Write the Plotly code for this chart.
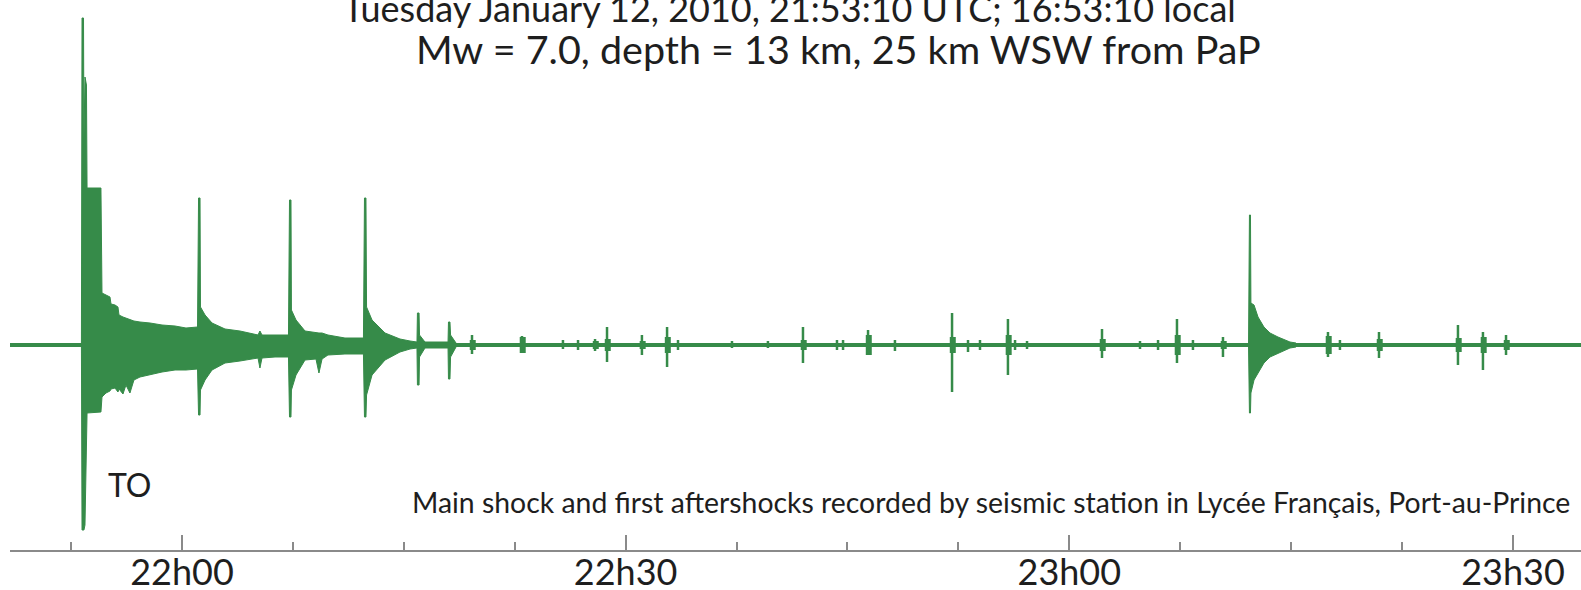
import plotly.graph_objects as go

# ---- data: minutes relative to 22:00 UTC, amplitude in arbitrary counts (up +, down -)
env_min = [-6.80, -6.76, -6.66, -6.63, -6.56, -6.46, -6.42, -5.48, -5.41, -5.14, -4.87, -4.80,
           -4.53, -4.33, -4.26, -3.99, -3.79, -3.52, -3.25, -2.84, -2.16, -1.35, -0.47, 0.27,
           1.05, 1.12, 1.22, 1.25, 1.56, 2.03, 2.91, 3.92, 5.14, 5.27, 5.41, 6.29,
           7.20, 7.27, 7.37, 7.40, 7.71, 8.32, 9.06, 9.26, 9.47, 9.87, 11.02,
           12.27, 12.34, 12.44, 12.48, 12.85, 13.73, 14.74, 15.42,
           15.89, 15.92, 16.03, 16.06, 16.43, 17.99, 18.02, 18.12, 18.16, 18.53]
env_up = [2, 327, 327, 205, 268, 260, 157, 157, 52, 50, 48, 41,
          40, 38, 30, 28, 27, 25, 24, 23, 22, 20, 19, 17,
          18, 147, 147, 38, 30, 22, 16, 14, 10, 14, 10, 10,
          10, 145, 145, 35, 25, 14, 12, 12, 12, 10, 7,
          7, 147, 147, 38, 25, 12, 6, 4,
          3, 32, 32, 10, 3, 3, 23, 23, 10, 2]
env_dn = [2, 185, 185, 185, 180, 100, 68, 67, 52, 48, 46, 44,
          43, 47, 44, 49, 40, 48, 35, 32, 30, 27, 25, 25,
          24, 70, 70, 45, 35, 25, 18, 16, 13, 23, 13, 12,
          12, 72, 72, 45, 30, 15, 14, 28, 14, 10, 9,
          9, 72, 72, 50, 30, 15, 7, 4,
          3, 40, 40, 12, 3, 3, 34, 34, 12, 2]

# large aftershock near 23h12
big_min = [72.12, 72.18, 72.25, 72.28, 72.49, 72.76, 73.16, 73.57, 74.11, 74.92, 75.33]
big_up = [2, 130, 130, 42, 40, 28, 18, 12, 8, 3, 2]
big_dn = [2, 68, 68, 48, 35, 28, 18, 12, 8, 3, 2]

# smaller aftershocks: time, peak up, peak down, coda up, coda down
ev_min = [19.61, 22.99, 25.76, 26.78, 27.93, 28.74, 31.10, 32.80, 33.54, 37.19, 39.62,
          41.99, 44.29, 44.70, 46.39, 48.21, 52.07, 53.15, 53.96, 55.85, 56.33, 57.14,
          62.21, 64.78, 66.00, 67.28, 68.36, 70.39, 77.49, 78.30, 80.94, 86.28, 87.97, 89.53]
ev_up = [10, 9, 5, 5, 6, 18, 10, 18, 5, 4, 4,
         18, 5, 5, 15, 5, 32, 5, 5, 26, 5, 4,
         16, 4, 5, 26, 5, 8, 13, 5, 13, 20, 13, 10]
ev_dn = [9, 8, 4, 5, 6, 17, 10, 22, 5, 3, 3,
         18, 5, 5, 10, 6, 47, 7, 5, 30, 5, 4,
         13, 4, 5, 18, 5, 12, 12, 5, 13, 20, 25, 10]
ev_cu = [5, 8, 0, 0, 4, 6, 4, 8, 0, 0, 0,
         5, 0, 0, 10, 0, 8, 0, 0, 10, 0, 0,
         6, 0, 0, 10, 0, 4, 9, 0, 6, 7, 8, 5]
ev_cd = [5, 8, 0, 0, 4, 6, 4, 8, 0, 0, 0,
         5, 0, 0, 10, 0, 8, 0, 0, 10, 0, 0,
         6, 0, 0, 10, 0, 4, 9, 0, 6, 7, 8, 5]

x_start, x_end = -11.63, 94.60
tick_vals = [0, 30, 60, 90]
tick_text = ["22h00", "22h30", "23h00", "23h30"]

title1 = "Tuesday January 12, 2010, 21:53:10 UTC; 16:53:10 local"
title2 = "Mw = 7.0, depth = 13 km, 25 km WSW from PaP"
note = "Main shock and first aftershocks recorded by seismic station in Lycée Français, Port-au-Prince"
label_to = "TO"

GREEN = "#368b49"
TEXT = "#1e1e1e"
AXIS = "#8a8a8a"
FONT = "Lato"

fig = go.Figure()

# baseline trace
fig.add_trace(go.Scatter(x=[x_start, x_end], y=[0, 0], mode="lines",
                         line=dict(color=GREEN, width=4), hoverinfo="skip"))

def poly(ms, ups, dns):
    xs = list(ms) + list(ms[::-1])
    ys = list(ups) + [-d for d in dns[::-1]]
    return xs, ys

px1, py1 = poly(env_min, env_up, env_dn)
px2, py2 = poly(big_min, big_up, big_dn)
fig.add_trace(go.Scatter(x=px1 + [None] + px2, y=py1 + [None] + py2, mode="lines",
                         fill="toself", fillcolor=GREEN,
                         line=dict(color=GREEN, width=1), hoverinfo="skip"))

sx, sy, bx, by = [], [], [], []
for m, u, d, cu, cd in zip(ev_min, ev_up, ev_dn, ev_cu, ev_cd):
    sx += [m, m, None]
    sy += [u, -d, None]
    if cu or cd:
        bx += [m + 0.05, m + 0.05, None]
        by += [cu, -cd, None]
fig.add_trace(go.Scatter(x=sx, y=sy, mode="lines", line=dict(color=GREEN, width=2.5),
                         hoverinfo="skip"))
fig.add_trace(go.Scatter(x=bx, y=by, mode="lines", line=dict(color=GREEN, width=6),
                         hoverinfo="skip"))

H = 550.0
def py(p):
    return (H - p) / H

def pxp(p):
    return (p - 10) / 1571.0

fig.add_annotation(text=title1, x=pxp(789), y=py(32), xref="paper", yref="paper",
                   xanchor="center", yanchor="bottom", showarrow=False,
                   font=dict(family=FONT, size=36, color=TEXT))
fig.add_annotation(text=title2, x=pxp(838), y=py(74), xref="paper", yref="paper",
                   xanchor="center", yanchor="bottom", showarrow=False,
                   font=dict(family=FONT, size=39.5, color=TEXT))
fig.add_annotation(text=label_to, x=pxp(106), y=py(484), xref="paper", yref="paper",
                   xanchor="left", yanchor="middle", showarrow=False,
                   font=dict(family=FONT, size=32, color=TEXT))
fig.add_annotation(text=note, x=pxp(1572), y=py(502), xref="paper", yref="paper",
                   xanchor="right", yanchor="middle", showarrow=False,
                   font=dict(family=FONT, size=28.4, color=TEXT))

fig.update_layout(
    width=1581, height=590,
    margin=dict(l=10, r=0, t=0, b=40, autoexpand=False),
    paper_bgcolor="white", plot_bgcolor="white",
    showlegend=False,
    xaxis=dict(range=[x_start, x_end], showgrid=False, zeroline=False, automargin=False,
               showline=True, linecolor=AXIS, linewidth=2,
               ticks="inside", ticklen=15, tickwidth=2, tickcolor=AXIS,
               tickvals=tick_vals, ticktext=tick_text, ticklabelstandoff=-10,
               tickfont=dict(family=FONT, size=36, color=TEXT),
               minor=dict(ticks="inside", ticklen=8, tickwidth=2, tickcolor=AXIS,
                          tick0=0, dtick=7.5, showgrid=False)),
    yaxis=dict(range=[-205, 345], visible=False, showgrid=False, zeroline=False,
               automargin=False),
)

fig.write_html("out.html")
